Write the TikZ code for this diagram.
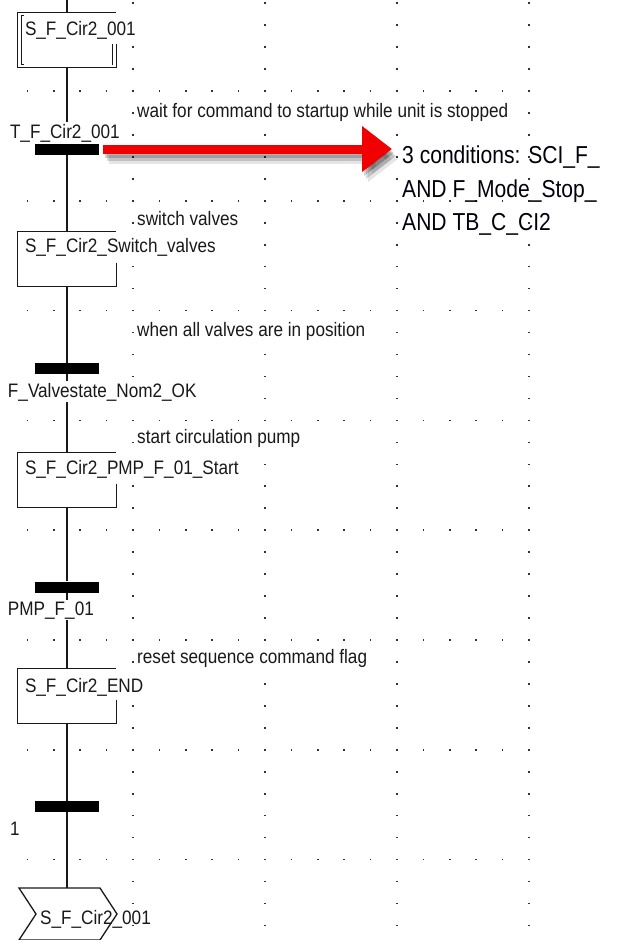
\documentclass[tikz,border=0pt]{standalone}
\usepackage{fontspec}
\setmainfont[FakeStretch=0.88]{Liberation Sans}
\newfontfamily\condfont[FakeStretch=0.86]{Liberation Sans}
\usepackage{tikz}
\usetikzlibrary{positioning,arrows.meta,calc,backgrounds}
\definecolor{calloutRed}{HTML}{F00000}

\begin{document}
\begin{tikzpicture}[x=1pt,y=1pt,
  stepbox/.style={minimum width=98pt, minimum height=55pt, inner sep=0pt},
  transbar/.style={fill=black, minimum width=64pt, minimum height=11pt, inner sep=0pt},
  sfclabel/.style={font=\fontsize{19.5}{23}\selectfont, text=black!90, fill=white, inner xsep=1pt, inner ysep=1.5pt, anchor=base west},
  jumplabel/.style={sfclabel, fill=none},
  condtext/.style={font=\condfont\fontsize{24.5}{33}\selectfont, text=black!95!blue, inner sep=0pt, anchor=base west},
  sfcline/.style={line width=1.3pt, draw=black!90},
  calloutarrow/.style={line width=9pt, draw=calloutRed, shorten <=4pt, shorten >=10pt, -{Triangle[length=30pt 0 0, width=44pt 0 0]}},
  griddot/.style={fill=black!80}
  ]
  \useasboundingbox (0,0) rectangle (616,-940);

  % steps and transitions
  \coordinate (top) at (67,0);
  \node[stepbox] (s0) at (67,-40) {};
  \node[transbar] (b1) at (67,-149) {};
  \node[stepbox] (s1) at (67,-259) {};
  \node[transbar] (b2) at (67,-368.5) {};
  \node[stepbox] (s2) at (67,-480) {};
  \node[transbar] (b3) at (67,-587) {};
  \node[stepbox] (s3) at (67,-696) {};
  \node[transbar] (b4) at (67,-806.5) {};
  \coordinate (jmp) at (67,-888);

  \begin{scope}[on background layer]
    % dotted grid
    \fill[white] (0,0) rectangle (616,-940);
    \foreach \cx in {133,265,397,529}
      \foreach \j in {-4,...,38}
        \fill[griddot] ({\cx-0.8},{-91-21.96*\j-0.8}) rectangle ++(1.6,1.6);
    \foreach \k in {0,...,7}
      \foreach \i in {0,...,19}
        \fill[griddot] ({27.4+26.4*\i-0.8},{-91-109.8*\k-0.8}) rectangle ++(1.6,1.6);
    % main chain
    \draw[sfcline] (top) -- (s0) -- (b1) -- (s1) -- (b2) -- (s2) -- (b3) -- (s3) -- (b4) -- (jmp);
  \end{scope}

  % step names
  \node[sfclabel] (n0) at ([shift={(6,-23.5)}]s0.north west) {S\_F\_Cir2\_001};
  \node[sfclabel] (n1) at ([shift={(6,-21)}]s1.north west) {S\_F\_Cir2\_Switch\_valves};
  \node[sfclabel] (n2) at ([shift={(6,-22.5)}]s2.north west) {S\_F\_Cir2\_PMP\_F\_01\_Start};
  \node[sfclabel] (n3) at ([shift={(6,-24.5)}]s3.north west) {S\_F\_Cir2\_END};
  \node[jumplabel] (nj) at ([shift={(-28,-36)}]jmp) {S\_F\_Cir2\_001};

  % transition names
  \node[sfclabel] (t1) at ([shift={(-26,11)}]b1.west) {T\_F\_Cir2\_001};
  \node[sfclabel] (t2) at ([shift={(-28,-28.5)}]b2.west) {F\_Valvestate\_Nom2\_OK};
  \node[sfclabel] (t3) at ([shift={(-28,-28)}]b3.west) {PMP\_F\_01};
  \node[sfclabel] (t4) at ([shift={(-26,-28.5)}]b4.west) {1};

  % comments
  \node[sfclabel] (m0) at (136,-117) {wait for command to startup while unit is stopped};
  \node[sfclabel] (m1) at (136,-225) {switch valves};
  \node[sfclabel] (m2) at (136,-336) {when all valves are in position};
  \node[sfclabel] (m3) at (136,-443) {start circulation pump};
  \node[sfclabel] (m4) at (136,-663) {reset sequence command flag};

  % step frames
  \foreach \s in {s0,s1,s2,s3}
    \draw[sfcline] ([yshift=24pt]\s.south east) -- (\s.south east) -- (\s.south west) -- (\s.north west) -- (\s.north east);
  \draw[sfcline] ([shift={(6.5,-3.5)}]s0.north west) -- ++(-2.5,0) |- ([shift={(6.5,3.5)}]s0.south west);
  \draw[sfcline] ([shift={(-4,3)}]s0.south east) -- ++(0,21);
  \draw[sfcline] (jmp) ++(-48,0) -- ++(81,0) -- ++(17,-26) -- ++(-17,-26) -- ++(-81,0) -- ++(17,26) -- cycle;

  % callout
  \foreach \txt/\yy [count=\n] in {3 conditions: SCI\_F\_/163, AND F\_Mode\_Stop\_/197, AND TB\_C\_CI2/230}
    \node[condtext] (c\n) at (402,-\yy) {\txt};
  \foreach \dx/\dy/\op in {2/-4/0.18, 4/-7/0.15, 6/-10/0.1}
    \draw[calloutarrow, draw=black, opacity=\op, transform canvas={shift={(\dx pt,\dy pt)}}] (b1.east) -- (b1.east -| c1.west);
  \draw[calloutarrow] (b1.east) -- (b1.east -| c1.west);
\end{tikzpicture}
\end{document}
